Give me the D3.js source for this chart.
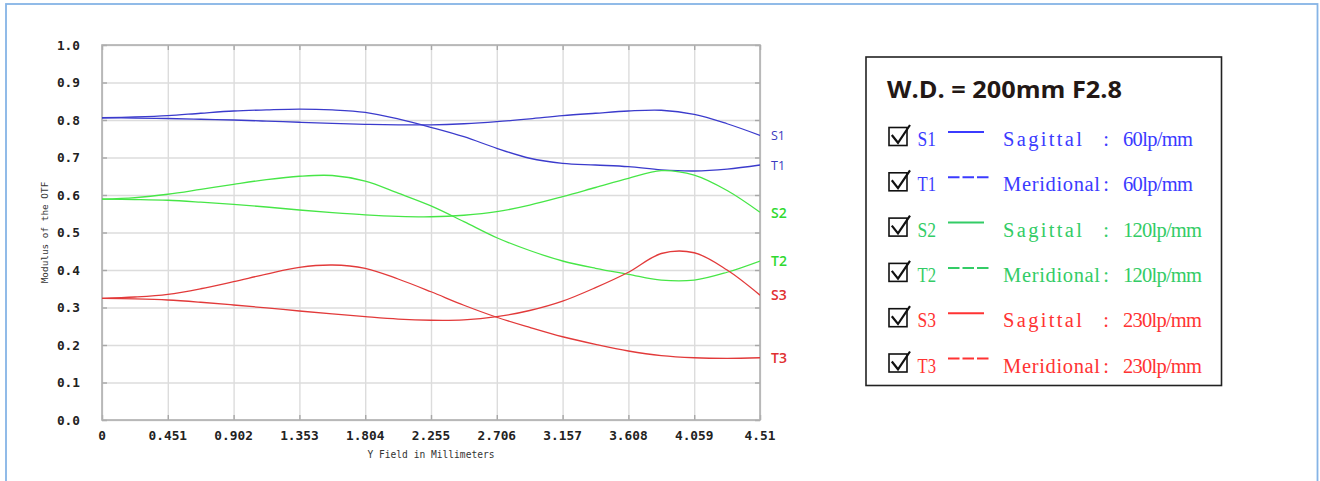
<!DOCTYPE html>
<html>
<head>
<meta charset="utf-8">
<script src="https://cdn.jsdelivr.net/npm/d3@7/dist/d3.min.js"></script>
<style>
html,body{margin:0;padding:0;background:#fff;}
svg{display:block;}
</style>
</head>
<body>
<svg id="chart" width="1320" height="481"></svg>
<script>
// ---------- DATA ----------
const fieldX = [0, 0.2255, 0.451, 0.6765, 0.902, 1.1275, 1.353, 1.5785, 1.804, 2.0295, 2.255,
                2.4805, 2.706, 2.9315, 3.157, 3.3825, 3.608, 3.8335, 4.059, 4.2845, 4.51];
const S1 = [0.806, 0.805, 0.804, 0.802, 0.800, 0.797, 0.794, 0.791, 0.7885, 0.787, 0.787,
            0.790, 0.7955, 0.803, 0.8115, 0.818, 0.824, 0.826, 0.815, 0.790, 0.759];
const T1 = [0.806, 0.808, 0.8115, 0.818, 0.824, 0.827, 0.829, 0.827, 0.8205, 0.803, 0.7805,
            0.7556, 0.7245, 0.698, 0.6845, 0.680, 0.6755, 0.667, 0.664, 0.669, 0.680];
const S2 = [0.589, 0.588, 0.586, 0.581, 0.575, 0.568, 0.560, 0.553, 0.547, 0.543, 0.542,
            0.546, 0.5555, 0.573, 0.5955, 0.620, 0.6445, 0.665, 0.653, 0.612, 0.554];
const T2 = [0.589, 0.593, 0.602, 0.615, 0.6285, 0.641, 0.650, 0.652, 0.637, 0.605, 0.571,
            0.529, 0.486, 0.452, 0.424, 0.4045, 0.3885, 0.373, 0.373, 0.394, 0.424];
const S3 = [0.3245, 0.323, 0.320, 0.314, 0.3067, 0.299, 0.2907, 0.283, 0.2755, 0.269, 0.266,
            0.267, 0.2755, 0.292, 0.317, 0.353, 0.394, 0.444, 0.446, 0.400, 0.333];
const T3 = [0.3245, 0.328, 0.335, 0.350, 0.369, 0.389, 0.407, 0.4133, 0.4045, 0.376, 0.342,
            0.306, 0.274, 0.247, 0.222, 0.2018, 0.184, 0.1716, 0.166, 0.1645, 0.166];

const seriesNames = ["S1", "T1", "S2", "T2", "S3", "T3"];
const seriesValues = [S1, T1, S2, T2, S3, T3];

const xTicks = [0, 0.451, 0.902, 1.353, 1.804, 2.255, 2.706, 3.157, 3.608, 4.059, 4.51];
const xTickLabels = ["0", "0.451", "0.902", "1.353", "1.804", "2.255", "2.706", "3.157", "3.608", "4.059", "4.51"];
const yTicks = [0, 0.1, 0.2, 0.3, 0.4, 0.5, 0.6, 0.7, 0.8, 0.9, 1.0];
const yTickLabels = ["0.0", "0.1", "0.2", "0.3", "0.4", "0.5", "0.6", "0.7", "0.8", "0.9", "1.0"];

const legendTitle = "W.D. = 200mm F2.8";
const legendKinds = ["Sagittal", "Meridional", "Sagittal", "Meridional", "Sagittal", "Meridional"];
const legendFreqs = ["60lp/mm", "60lp/mm", "120lp/mm", "120lp/mm", "230lp/mm", "230lp/mm"];
const xTitle = "Y Field in Millimeters";
const yTitle = "Modulus of the OTF";

// ---------- STYLE ----------
const lineColors  = ["#3b3bcc", "#3b3bcc", "#47e647", "#47e647", "#e23a3a", "#e23a3a"];
const labelColors = ["#3a3ac0", "#3a3ac0", "#2fd92f", "#2fd92f", "#e03030", "#e03030"];
const labelSizes  = [12.5, 12.5, 14, 14, 14, 14];
const legendColors = ["#3b3bff", "#3b3bff", "#33cc66", "#33cc66", "#ff3333", "#ff3333"];

const svg = d3.select("#chart");

// outer frame
svg.append("rect").attr("x", 6).attr("y", 4).attr("width", 1311.5).attr("height", 500)
  .attr("fill", "none").attr("stroke", "#86b4e6").attr("stroke-width", 1.8);

const plot = {left: 102, right: 760, top: 45, bottom: 420};
const x = d3.scaleLinear().domain([0, 4.51]).range([plot.left, plot.right]);
const y = d3.scaleLinear().domain([0, 1.0]).range([plot.bottom, plot.top]);

const g = svg.append("g");

// grid
g.append("g").attr("transform", `translate(0,${plot.bottom})`)
  .call(d3.axisBottom(x).tickValues(xTicks).tickSize(-(plot.bottom - plot.top)).tickFormat(""))
  .call(s => s.select(".domain").remove())
  .call(s => s.selectAll("line").attr("stroke", "#dcdcdc").attr("stroke-width", 1.4));
g.append("g").attr("transform", `translate(${plot.left},0)`)
  .call(d3.axisLeft(y).tickValues(yTicks).tickSize(-(plot.right - plot.left)).tickFormat(""))
  .call(s => s.select(".domain").remove())
  .call(s => s.selectAll("line").attr("stroke", "#dcdcdc").attr("stroke-width", 1.4));

// inward ticks on all sides
const tickLen = 5, tickCol = "#a8a8a8";
g.append("g").attr("transform", `translate(0,${plot.bottom})`)
  .call(d3.axisTop(x).tickValues(xTicks).tickSize(tickLen).tickFormat(""))
  .call(s => s.select(".domain").remove()).call(s => s.selectAll("line").attr("stroke", tickCol).attr("stroke-width", 1.4));
g.append("g").attr("transform", `translate(0,${plot.top})`)
  .call(d3.axisBottom(x).tickValues(xTicks).tickSize(tickLen).tickFormat(""))
  .call(s => s.select(".domain").remove()).call(s => s.selectAll("line").attr("stroke", tickCol).attr("stroke-width", 1.4));
g.append("g").attr("transform", `translate(${plot.left},0)`)
  .call(d3.axisRight(y).tickValues(yTicks).tickSize(tickLen).tickFormat(""))
  .call(s => s.select(".domain").remove()).call(s => s.selectAll("line").attr("stroke", tickCol).attr("stroke-width", 1.4));
g.append("g").attr("transform", `translate(${plot.right},0)`)
  .call(d3.axisLeft(y).tickValues(yTicks).tickSize(tickLen).tickFormat(""))
  .call(s => s.select(".domain").remove()).call(s => s.selectAll("line").attr("stroke", tickCol).attr("stroke-width", 1.4));

// frame
g.append("rect").attr("x", plot.left).attr("y", plot.top)
  .attr("width", plot.right - plot.left).attr("height", plot.bottom - plot.top)
  .attr("fill", "none").attr("stroke", "#b0b0b0").attr("stroke-width", 1.6);

// tick labels
const monoFont = "'DejaVu Sans Mono', 'Liberation Mono', monospace";
g.append("g").selectAll("text").data(yTicks).join("text")
  .attr("x", 80).attr("y", d => y(d)).attr("dy", "0.36em")
  .attr("text-anchor", "end").attr("font-family", monoFont).attr("font-weight", "bold")
  .attr("font-size", 12.8).attr("fill", "#222").text((d, i) => yTickLabels[i]);
g.append("g").selectAll("text").data(xTicks).join("text")
  .attr("x", d => x(d)).attr("y", 439.5)
  .attr("text-anchor", "middle").attr("font-family", monoFont).attr("font-weight", "bold")
  .attr("font-size", 12.8).attr("fill", "#222").text((d, i) => xTickLabels[i]);

// axis titles
g.append("text").attr("x", (plot.left + plot.right) / 2).attr("y", 458)
  .attr("text-anchor", "middle").attr("font-family", monoFont).attr("font-size", 9.6)
  .attr("fill", "#333").text(xTitle);
g.append("text").attr("transform", `translate(47.5,${(plot.top + plot.bottom) / 2}) rotate(-90)`)
  .attr("text-anchor", "middle").attr("font-family", monoFont).attr("font-size", 9.4)
  .attr("fill", "#333").text(yTitle);

// curves
const line = d3.line().x((d, i) => x(fieldX[i])).y(d => y(d)).curve(d3.curveCatmullRom.alpha(0.5));
const clipId = "plotclip";
svg.append("clipPath").attr("id", clipId).append("rect")
  .attr("x", plot.left).attr("y", plot.top).attr("width", plot.right - plot.left).attr("height", plot.bottom - plot.top);
g.append("g").attr("clip-path", `url(#${clipId})`).selectAll("path").data(seriesValues).join("path")
  .attr("d", d => line(d)).attr("fill", "none")
  .attr("stroke", (d, i) => lineColors[i]).attr("stroke-width", 1.3);

// end labels
g.append("g").selectAll("text").data(seriesValues).join("text")
  .attr("x", 771).attr("y", d => y(d[d.length - 1]))
  .attr("dy", (d, i) => labelSizes[i] * 0.38)
  .attr("font-family", "'Open Sans', 'Noto Sans', sans-serif")
  .attr("font-size", (d, i) => labelSizes[i])
  .attr("font-weight", (d, i) => i < 2 ? 400 : 600)
  .attr("fill", (d, i) => labelColors[i]).text((d, i) => seriesNames[i]);

// ---------- LEGEND ----------
const lg = svg.append("g");
lg.append("rect").attr("x", 866).attr("y", 57).attr("width", 355.5).attr("height", 328.5)
  .attr("fill", "#fff").attr("stroke", "#222").attr("stroke-width", 1.6);
lg.append("text").attr("x", 887).attr("y", 97.5)
  .attr("font-family", "'Open Sans', 'Noto Sans', sans-serif").attr("font-weight", "bold")
  .attr("font-size", 23.5).attr("fill", "#231815")
  .attr("textLength", 235).attr("lengthAdjust", "spacingAndGlyphs").text(legendTitle);

const rowY = d3.scaleLinear().domain([0, 5]).range([146, 372.5]);
const serif = "'Liberation Serif', 'DejaVu Serif', serif";
const rows = lg.selectAll("g.row").data(seriesNames).join("g").attr("class", "row")
  .attr("transform", (d, i) => `translate(0,${rowY(i)})`);
rows.append("rect").attr("x", 889).attr("y", -18.5).attr("width", 18).attr("height", 18)
  .attr("fill", "none").attr("stroke", "#111").attr("stroke-width", 1.6);
rows.append("path").attr("d", "M891.8,-11 L898,-3.2 L910,-21")
  .attr("fill", "none").attr("stroke", "#111").attr("stroke-width", 2.2)
  .attr("stroke-linejoin", "miter");
rows.append("text").attr("x", 917.5).attr("y", 0)
  .attr("font-family", serif).attr("font-size", 20.5).attr("fill", (d, i) => legendColors[i])
  .attr("textLength", 18.5).attr("lengthAdjust", "spacingAndGlyphs").text(d => d);
rows.append("line").attr("x1", 948).attr("x2", (d, i) => i % 2 ? 989 : 984)
  .attr("y1", -14).attr("y2", -14)
  .attr("stroke", (d, i) => legendColors[i]).attr("stroke-width", 2)
  .attr("stroke-dasharray", (d, i) => i % 2 ? "11.5,3" : null);
rows.append("text").attr("x", 1003).attr("y", 0)
  .attr("font-family", serif).attr("font-size", 20.5).attr("fill", (d, i) => legendColors[i])
  .attr("textLength", (d, i) => legendKinds[i] === "Sagittal" ? 79 : 97)
  .attr("lengthAdjust", "spacing").text((d, i) => legendKinds[i]);
rows.append("text").attr("x", 1106).attr("y", 0).attr("text-anchor", "middle")
  .attr("font-family", serif).attr("font-size", 20.5)
  .attr("fill", (d, i) => legendColors[i]).text(":");
rows.append("text").attr("x", 1123).attr("y", 0)
  .attr("font-family", serif).attr("font-size", 20.5).attr("fill", (d, i) => legendColors[i])
  .attr("textLength", (d, i) => legendFreqs[i].length === 7 ? 70 : 79)
  .attr("lengthAdjust", "spacing").text((d, i) => legendFreqs[i]);
</script>
</body>
</html>
